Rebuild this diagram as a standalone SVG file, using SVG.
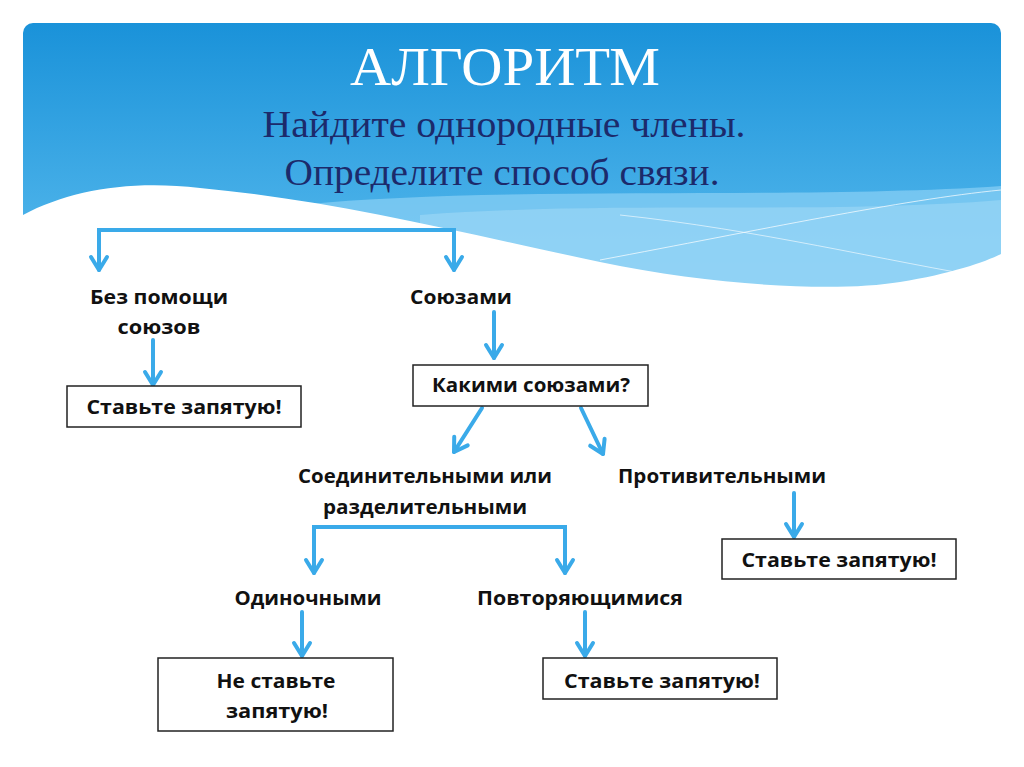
<svg xmlns="http://www.w3.org/2000/svg" width="1024" height="767" viewBox="0 0 1024 767">
<defs>
<linearGradient id="sky" x1="0" y1="0" x2="0" y2="1">
<stop offset="0" stop-color="#1a92d9"/>
<stop offset="1" stop-color="#62c1f1"/>
</linearGradient>
<clipPath id="bannerClip"><rect x="23" y="23" width="978" height="400" rx="10"/></clipPath>
<marker id="arr" markerUnits="userSpaceOnUse" markerWidth="30" markerHeight="30" viewBox="-15 -15 30 30" refX="0" refY="0" orient="auto" overflow="visible">
<path d="M-13,-8 L0,0 L-13,8" fill="none" stroke="#3aaae9" stroke-width="4" stroke-linecap="round" stroke-linejoin="round"/>
</marker>
<style>
.lbl{font-family:"Open Sans","Liberation Sans",sans-serif;font-weight:700;font-size:20px;fill:#111;text-anchor:middle}
.box{fill:#fff;stroke:#222;stroke-width:1.5}
.con{fill:none;stroke:#3aaae9;stroke-width:4;stroke-linecap:round;stroke-linejoin:miter}
.arrow{marker-end:url(#arr)}
</style>
</defs>
<rect width="1024" height="767" fill="#fff"/>
<g id="banner" clip-path="url(#bannerClip)">
<rect x="23" y="23" width="978" height="300" fill="url(#sky)"/>
<path d="M300,205 C500,185 800,200 1001,186 L1001,300 L300,300 Z" fill="#8ad0f5" opacity="0.7"/>
<path d="M420,215 C620,200 820,215 1001,200 L1001,300 L420,300 Z" fill="#a6dcf7" opacity="0.5"/>
<path d="M600,260 C760,230 900,200 1001,190" fill="none" stroke="#fff" stroke-width="1" opacity="0.7"/>
<path d="M620,215 C760,230 880,260 1001,280" fill="none" stroke="#fff" stroke-width="1" opacity="0.6"/>
<path d="M0,220 L23,215 C70,190 130,180 200,188 C330,200 450,230 600,262 C720,287 840,292 900,282 C950,274 985,262 1001,254 L1030,250 L1030,440 L0,440 Z" fill="#fff"/>
</g>
<g id="title">
<text x="505" y="85" font-family="Liberation Serif,serif" font-size="55" fill="#fff" text-anchor="middle" textLength="310" lengthAdjust="spacingAndGlyphs">АЛГОРИТМ</text>
<text x="504" y="137" font-family="Liberation Serif,serif" font-size="37" fill="#1c2a6b" text-anchor="middle" textLength="483" lengthAdjust="spacingAndGlyphs">Найдите однородные члены.</text>
<text x="502" y="185" font-family="Liberation Serif,serif" font-size="37" fill="#1c2a6b" text-anchor="middle" textLength="435" lengthAdjust="spacingAndGlyphs">Определите способ связи.</text>
</g>
<g id="connectors">
<path class="con" d="M99,268 L99,230 L454,230 L454,268" />
<path class="con arrow" d="M99,236 L99,270"/>
<path class="con arrow" d="M454,236 L454,270"/>
<path class="con arrow" d="M153,340 L153,385"/>
<path class="con arrow" d="M494,312 L494,358"/>
<path class="con arrow" d="M482,408 L454,452"/>
<path class="con arrow" d="M581,408 L603,454"/>
<path class="con arrow" d="M794,493 L794,537"/>
<path class="con" d="M314,570 L314,527 L565,527 L565,570"/>
<path class="con arrow" d="M314,535 L314,573"/>
<path class="con arrow" d="M565,535 L565,573"/>
<path class="con arrow" d="M302,612 L302,656"/>
<path class="con arrow" d="M585,612 L585,656"/>
</g>
<g id="n-bez">
<text class="lbl" x="159" y="304" textLength="138" lengthAdjust="spacingAndGlyphs">Без помощи</text>
<text class="lbl" x="159" y="334" textLength="83" lengthAdjust="spacingAndGlyphs">союзов</text>
</g>
<g id="n-box1">
<rect class="box" x="67" y="386" width="234" height="41"/>
<text class="lbl" x="184" y="414" textLength="195" lengthAdjust="spacingAndGlyphs">Ставьте запятую!</text>
</g>
<g id="n-soyuzami">
<text class="lbl" x="461" y="304" textLength="102" lengthAdjust="spacingAndGlyphs">Союзами</text>
</g>
<g id="n-kakimi">
<rect class="box" x="413" y="365" width="235" height="41"/>
<text class="lbl" x="531" y="392" textLength="198" lengthAdjust="spacingAndGlyphs">Какими союзами?</text>
</g>
<g id="n-soed">
<text class="lbl" x="425" y="483" textLength="254" lengthAdjust="spacingAndGlyphs">Соединительными или</text>
<text class="lbl" x="425" y="514" textLength="204" lengthAdjust="spacingAndGlyphs">разделительными</text>
</g>
<g id="n-protiv">
<text class="lbl" x="722" y="483" textLength="208" lengthAdjust="spacingAndGlyphs">Противительными</text>
</g>
<g id="n-box3">
<rect class="box" x="722" y="539" width="234" height="40"/>
<text class="lbl" x="839" y="567" textLength="195" lengthAdjust="spacingAndGlyphs">Ставьте запятую!</text>
</g>
<g id="n-odin">
<text class="lbl" x="308" y="605" textLength="147" lengthAdjust="spacingAndGlyphs">Одиночными</text>
</g>
<g id="n-povt">
<text class="lbl" x="580" y="605" textLength="206" lengthAdjust="spacingAndGlyphs">Повторяющимися</text>
</g>
<g id="n-box4">
<rect class="box" x="158" y="658" width="235" height="73"/>
<text class="lbl" x="276" y="688" textLength="119" lengthAdjust="spacingAndGlyphs">Не ставьте</text>
<text class="lbl" x="277" y="718" textLength="102" lengthAdjust="spacingAndGlyphs">запятую!</text>
</g>
<g id="n-box5">
<rect class="box" x="543" y="658" width="234" height="41"/>
<text class="lbl" x="662" y="688" textLength="196" lengthAdjust="spacingAndGlyphs">Ставьте запятую!</text>
</g>
</svg>
